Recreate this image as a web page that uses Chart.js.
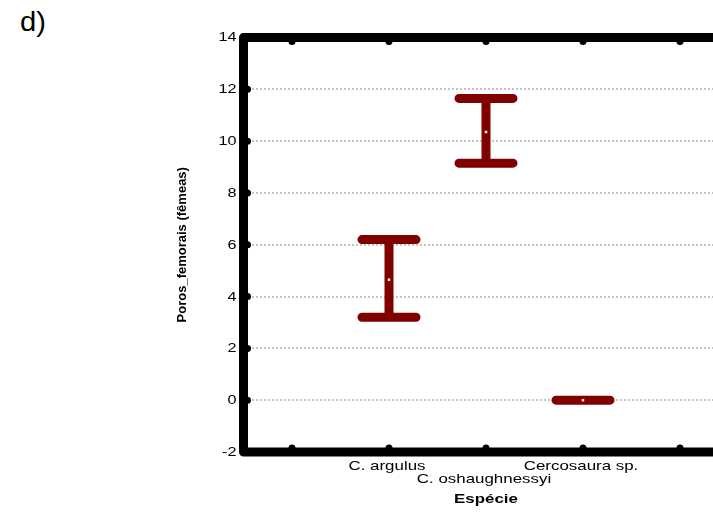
<!DOCTYPE html>
<html>
<head>
<meta charset="utf-8">
<script src="https://cdn.jsdelivr.net/npm/chart.js@4.4.0/dist/chart.umd.min.js"></script>
<style>
  body { margin: 0; overflow: hidden; background: #fff; width: 713px; height: 512px; }
  #panel { position: absolute; left: 20px; top: 7px; font: 27px "Liberation Sans", Arial, sans-serif;
           transform: scaleX(1.08); transform-origin: left top; }
  canvas { position: absolute; left: 0; top: 0; }
</style>
</head>
<body>
<div id="panel">d)</div>
<canvas id="chart" width="740" height="512"></canvas>
<script>
// categories on the x axis (first and last slots are empty)
const categories = ['', 'C. argulus', 'C. oshaughnessyi', 'Cercosaura sp.', ''];
const labelRow = [0, 0, 1, 0, 0];   // staggered label rows
const means = [null, 4.65, 10.35, 0, null];
const upper = [null, 6.2, 11.65, 0, null];
const lower = [null, 3.2, 9.15, 0, null];
const yTicks = [-2, 0, 2, 4, 6, 8, 10, 12, 14];

const barColor = '#800000';
const FONT = '"Liberation Sans", Arial, sans-serif';
const SX = 1.3; // the original text is drawn wide

function wideText(ctx, text, x, y, align, baseline) {
    ctx.save();
    ctx.translate(x, y);
    ctx.scale(SX, 1);
    ctx.textAlign = align;
    ctx.textBaseline = baseline;
    ctx.fillText(text, 0, 0);
    ctx.restore();
}

// whiskers, caps, frame and wide labels
const errorBars = {
    id: 'errorBars',
    beforeDatasetsDraw(chart) {
        const ctx = chart.ctx;
        const x = chart.scales.x, y = chart.scales.y;
        ctx.save();
        ctx.strokeStyle = barColor;
        ctx.lineWidth = 9;
        ctx.lineCap = 'round';
        for (let i = 0; i < means.length; i++) {
            if (means[i] === null) continue;
            const px = x.getPixelForValue(i);
            const pu = y.getPixelForValue(upper[i]);
            const pl = y.getPixelForValue(lower[i]);
            ctx.beginPath();
            ctx.moveTo(px, pu);
            ctx.lineTo(px, pl);
            ctx.moveTo(px - 27, pu);
            ctx.lineTo(px + 27, pu);
            ctx.moveTo(px - 27, pl);
            ctx.lineTo(px + 27, pl);
            ctx.stroke();
        }
        ctx.restore();
    },
    afterDraw(chart) {
        const ctx = chart.ctx;
        const a = chart.chartArea;
        const x = chart.scales.x, y = chart.scales.y;
        ctx.save();
        ctx.strokeStyle = '#000';
        ctx.fillStyle = '#000';
        ctx.lineWidth = 9;
        ctx.lineJoin = 'round';
        ctx.lineCap = 'round';
        ctx.beginPath();
        ctx.moveTo(a.right + 20, a.top);
        ctx.lineTo(a.left, a.top);
        ctx.lineTo(a.left, a.bottom);
        ctx.lineTo(a.right + 20, a.bottom);
        ctx.stroke();
        // small tick bumps
        yTicks.forEach(v => {
            ctx.beginPath();
            ctx.arc(a.left + 4, y.getPixelForValue(v), 3.5, 0, Math.PI * 2);
            ctx.fill();
        });
        for (let i = 0; i < categories.length; i++) {
            const px = x.getPixelForValue(i);
            ctx.beginPath();
            ctx.arc(px, a.top + 4, 3.5, 0, Math.PI * 2);
            ctx.arc(px, a.bottom - 4, 3.5, 0, Math.PI * 2);
            ctx.fill();
        }
        // tick labels
        ctx.font = '12.5px ' + FONT;
        yTicks.forEach(v => {
            wideText(ctx, String(v), a.left - 7, y.getPixelForValue(v) + 0.5, 'right', 'middle');
        });
        ctx.font = '13px ' + FONT;
        for (let i = 0; i < categories.length; i++) {
            if (!categories[i]) continue;
            wideText(ctx, categories[i], x.getPixelForValue(i) - 2, a.bottom + 18 + labelRow[i] * 13, 'center', 'alphabetic');
        }
        ctx.font = 'bold 13px ' + FONT;
        wideText(ctx, 'Espécie', (x.getPixelForValue(1) + x.getPixelForValue(3)) / 2, a.bottom + 51, 'center', 'alphabetic');
        ctx.restore();
    }
};

new Chart(document.getElementById('chart'), {
    type: 'line',
    data: {
        labels: categories,
        datasets: [{
            data: means,
            showLine: false,
            pointStyle: 'rect',
            pointRadius: 2.5,
            pointBackgroundColor: '#fff',
            pointBorderColor: barColor,
            pointBorderWidth: 1
        }]
    },
    options: {
        responsive: false,
        animation: false,
        layout: { padding: { left: 175, right: 11.5, top: 37.5, bottom: 6 } },
        plugins: { legend: { display: false }, tooltip: { enabled: false } },
        scales: {
            x: {
                type: 'category',
                offset: true,
                grid: { display: false, drawTicks: false },
                border: { display: false },
                ticks: { display: false },
                afterFit(scale) { scale.height = 54; }
            },
            y: {
                min: -2,
                max: 14,
                afterBuildTicks(scale) { scale.ticks = yTicks.map(v => ({ value: v })); },
                grid: { color: '#c4c4c4', lineWidth: 2, drawTicks: false },
                border: { display: false, dash: [2, 2] },
                ticks: { display: false },
                title: {
                    display: true,
                    text: 'Poros_femorais (fêmeas)',
                    color: '#000',
                    padding: 0,
                    font: { family: FONT, size: 13, weight: 'bold' }
                },
                afterFit(scale) { scale.width = 68.5; }
            }
        }
    },
    plugins: [errorBars]
});
</script>
</body>
</html>
